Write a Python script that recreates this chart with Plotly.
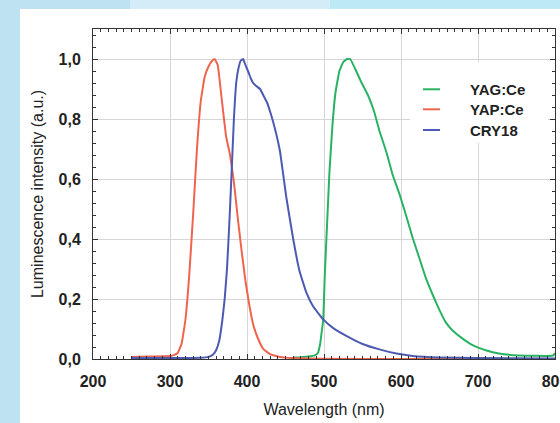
import plotly.graph_objects as go

# ---- data ----
yap_x = [250, 270, 290, 300, 305, 310, 315, 320, 325, 330, 335, 340, 345, 350, 355, 358,
         362, 367, 373, 378, 383, 388, 393, 398, 403, 408, 414, 421, 430, 443, 460, 500, 600, 700, 800]
yap_y = [0.007, 0.008, 0.009, 0.010, 0.013, 0.02, 0.05, 0.13, 0.28, 0.48, 0.70, 0.86, 0.94, 0.975, 0.995, 1.0,
         0.98, 0.87, 0.74, 0.68, 0.59, 0.47, 0.36, 0.26, 0.18, 0.115, 0.07, 0.034, 0.016, 0.007, 0.003, 0.001, 0.0, 0.0, 0.0]

cry_x = [250, 300, 340, 350, 356, 360, 364, 368, 371, 374, 377, 380, 383, 386, 389, 392, 395,
         398, 402, 405, 408, 412, 417, 421, 426, 430, 434, 438, 443, 451, 460, 468, 477, 486, 499,
         512, 529, 550, 572, 594, 615, 650, 700, 800]
cry_y = [0.003, 0.003, 0.004, 0.007, 0.015, 0.03, 0.062, 0.13, 0.20, 0.30, 0.45, 0.62, 0.80, 0.92, 0.97, 0.995, 1.0,
         0.98, 0.955, 0.935, 0.92, 0.91, 0.90, 0.88, 0.855, 0.825, 0.79, 0.75, 0.69, 0.54, 0.40, 0.295, 0.222, 0.175, 0.132,
         0.103, 0.077, 0.05, 0.032, 0.018, 0.01, 0.005, 0.003, 0.002]

yag_x = [460, 470, 480, 488, 492, 495, 497, 499, 501, 504, 507, 511, 515, 520, 525, 530, 534, 540, 548,
         557, 565, 572, 581, 589, 598, 607, 615, 624, 632, 641, 650, 658, 667, 680, 693, 710, 727, 753,
         775, 790, 798, 800]
yag_y = [0.005, 0.006, 0.008, 0.012, 0.02, 0.05, 0.09, 0.13, 0.28, 0.45, 0.62, 0.78, 0.89, 0.96, 0.99, 1.0, 1.0, 0.97, 0.925,
         0.88, 0.826, 0.76, 0.69, 0.615, 0.55, 0.475, 0.405, 0.335, 0.272, 0.215, 0.163, 0.123, 0.095, 0.068, 0.046, 0.029, 0.018, 0.012,
         0.011, 0.01, 0.012, 0.02]

series_names = ["YAG:Ce", "YAP:Ce", "CRY18"]
series_colors = ["#28b262", "#f0644e", "#4d5ab2"]

x_ticks = [200, 300, 400, 500, 600, 700, 800]
y_ticks = [0.0, 0.2, 0.4, 0.6, 0.8, 1.0]

FONT = "Liberation Sans, Arial, sans-serif"

fig = go.Figure()
for name, xs, ys, col in [("YAG:Ce", yag_x, yag_y, series_colors[0]),
                          ("YAP:Ce", yap_x, yap_y, series_colors[1]),
                          ("CRY18", cry_x, cry_y, series_colors[2])]:
    fig.add_trace(go.Scatter(x=xs, y=ys, mode="lines", name=name,
                             line=dict(color=col, width=2, shape="spline", smoothing=0.3),
                             showlegend=False))

# plot area geometry (pixels) for paper-coord conversions
L, R, T, B = 93, 5, 29, 64
W, H = 560, 423
pw, ph = W - L - R, H - T - B

def px(xp):
    return (xp - L) / pw

def py(yp):
    return (H - B - yp) / ph

shapes = [
    # lighter / more cyan parts of the top strip
    dict(type="rect", xref="paper", yref="paper", x0=px(130), x1=px(330), y0=py(9), y1=py(-5),
         fillcolor="#d3ecf7", line=dict(width=0), layer="below"),
    dict(type="rect", xref="paper", yref="paper", x0=px(330), x1=px(600), y0=py(9), y1=py(-5),
         fillcolor="#bde9f7", line=dict(width=0), layer="below"),
    # white panel on light-blue page
    dict(type="rect", xref="paper", yref="paper", x0=px(20), x1=px(600), y0=py(440), y1=py(9),
         fillcolor="white", line=dict(width=0), layer="below"),
    # legend box
    dict(type="rect", xref="paper", yref="paper", x0=px(410), x1=px(548), y0=py(143), y1=py(62),
         fillcolor="white", line=dict(width=0), layer="above"),
]
annotations = []
leg_y = [89.3, 109.3, 130]
for name, col, yy in zip(series_names, series_colors, leg_y):
    shapes.append(dict(type="line", xref="paper", yref="paper", x0=px(423), x1=px(440),
                       y0=py(yy), y1=py(yy), line=dict(color=col, width=2), layer="above"))
    annotations.append(dict(xref="paper", yref="paper", x=px(468), y=py(yy), text=name,
                            showarrow=False, xanchor="left", yanchor="middle",
                            font=dict(family=FONT, size=15, color="#222", weight="bold")))

axis_common = dict(showline=True, linecolor="#333", linewidth=1, mirror="ticks",
                   ticks="inside", ticklen=5, tickcolor="#333",
                   showgrid=True, gridcolor="#d6d6d6", gridwidth=1, zeroline=False,
                   ticklabeloverflow="allow", automargin=False,
                   tickfont=dict(family=FONT, size=16, color="#222", weight="bold"))

fig.update_layout(
    width=W, height=H,
    margin=dict(l=L, r=R, t=T, b=B, autoexpand=False),
    paper_bgcolor="#bee2f1",
    plot_bgcolor="white",
    separators=", ",
    shapes=shapes,
    annotations=annotations,
    xaxis=dict(range=[200, 800], tickvals=x_ticks,
               minor=dict(ticks="inside", dtick=10, ticklen=3, tickcolor="#333", showgrid=False),
               title=dict(text="Wavelength (nm)", font=dict(family=FONT, size=16, color="#222"), standoff=14),
               ticklabelstandoff=8,
               **axis_common),
    yaxis=dict(range=[0, 1.1], tickvals=y_ticks, tickformat=".1f",
               minor=dict(ticks="inside", dtick=0.04, ticklen=3, tickcolor="#333", showgrid=False),
               title=dict(text="Luminescence intensity (a.u.)", font=dict(family=FONT, size=16, color="#222"), standoff=10),
               ticklabelstandoff=8,
               **axis_common),
)

fig.write_html("out.html", config={"displayModeBar": False},
               post_script="document.body.style.margin='0';document.body.style.background='#bee2f1';")
